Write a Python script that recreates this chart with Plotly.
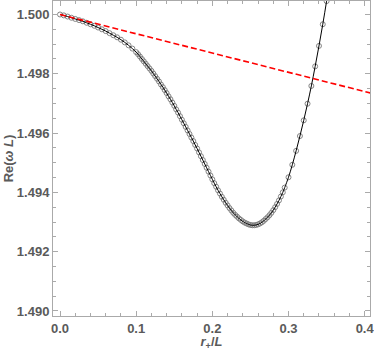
import plotly.graph_objects as go

# data
r_plus = [0.000, 0.005, 0.010, 0.015, 0.020, 0.025, 0.030, 0.035, 0.040, 0.045,
          0.050, 0.055, 0.060, 0.065, 0.070, 0.075, 0.080, 0.085, 0.090, 0.095,
          0.1000, 0.1025, 0.1050, 0.1075, 0.1100, 0.1125, 0.1150, 0.1175, 0.1200, 0.1225,
          0.1250, 0.1275, 0.1300, 0.1325, 0.1350, 0.1375, 0.1400, 0.1425, 0.1450, 0.1475,
          0.1500, 0.1525, 0.1550, 0.1575, 0.1600, 0.1625, 0.1650, 0.1675, 0.1700, 0.1725,
          0.1750, 0.1775, 0.1800, 0.1825, 0.1850, 0.1875, 0.1900, 0.1925, 0.1950, 0.1975,
          0.2000, 0.2025, 0.2050, 0.2075, 0.2100, 0.2125, 0.2150, 0.2175, 0.2200, 0.2225,
          0.2250, 0.2275, 0.2300, 0.2325, 0.2350, 0.2375, 0.2400, 0.2425, 0.2450, 0.2475,
          0.2500, 0.2525, 0.2550, 0.2575, 0.2600, 0.2625, 0.2650, 0.2675, 0.2700, 0.2725,
          0.2750, 0.2775, 0.2800, 0.2825, 0.2850, 0.2875, 0.2900, 0.2925, 0.2950,
          0.300, 0.305, 0.310, 0.315, 0.320, 0.325, 0.330, 0.335, 0.340, 0.345,
          0.350, 0.355]
re_omega = [1.50000, 1.49997, 1.49993, 1.49989, 1.49985, 1.49981, 1.49977, 1.49972, 1.49967, 1.49962,
            1.49956, 1.49950, 1.49944, 1.49937, 1.49930, 1.49923, 1.49915, 1.49906, 1.49896, 1.49885,
            1.49873, 1.49866, 1.49858, 1.49850, 1.49842, 1.49834, 1.49826, 1.49818, 1.49810, 1.49801,
            1.49792, 1.49783, 1.49774, 1.49764, 1.49755, 1.49745, 1.49735, 1.49724, 1.49714, 1.49703,
            1.49692, 1.49680, 1.49669, 1.49657, 1.49645, 1.49633, 1.49621, 1.49609, 1.49597, 1.49585,
            1.49573, 1.49560, 1.49548, 1.49535, 1.49522, 1.49509, 1.49496, 1.49483, 1.49470, 1.49457,
            1.49444, 1.49431, 1.49419, 1.49407, 1.49396, 1.49385, 1.49375, 1.49365, 1.49356, 1.49347,
            1.49339, 1.49331, 1.49324, 1.49318, 1.49312, 1.49307, 1.49302, 1.49298, 1.49295, 1.49292,
            1.49290, 1.49289, 1.49289, 1.49290, 1.49292, 1.49295, 1.49299, 1.49304, 1.49310, 1.49316,
            1.49323, 1.49331, 1.49340, 1.49350, 1.49361, 1.49373, 1.49386, 1.49400, 1.49416,
            1.49451, 1.49493, 1.49540, 1.49590, 1.49643, 1.49699, 1.49759, 1.49825, 1.49894, 1.49967,
            1.50045, 1.50128]

approx_x = [0.0, 0.42]
approx_y = [1.50000, 1.49727]

fig = go.Figure()
fig.add_trace(go.Scatter(
    x=r_plus, y=re_omega, mode="markers",
    marker=dict(symbol="circle-open", size=5, color="#777777", line=dict(width=0.9)),
    showlegend=False))
fig.add_trace(go.Scatter(
    x=r_plus, y=re_omega, mode="lines",
    line=dict(color="black", width=1, shape="spline"),
    showlegend=False))
fig.add_trace(go.Scatter(
    x=approx_x, y=approx_y, mode="lines",
    line=dict(color="#ff0000", width=1.6, dash="6px,3px"),
    showlegend=False))

label_font = dict(family="Liberation Sans", size=13, color="#5a5a5a", weight="bold")

axis_common = dict(
    showline=True, linecolor="#aaaaaa", linewidth=1, mirror="ticks",
    ticks="inside", tickcolor="#aaaaaa", ticklen=5, tickwidth=1,
    showgrid=False, zeroline=False, automargin=False,
    tickfont=label_font, ticklabeloverflow="allow",
)

fig.update_layout(
    template="none",
    width=374, height=351,
    margin=dict(l=53, r=4, t=1, b=35),
    paper_bgcolor="white", plot_bgcolor="white",
    xaxis=dict(range=[-0.0092, 0.407], tickvals=[0.0, 0.1, 0.2, 0.3, 0.4],
               tickformat=".1f",
               minor=dict(ticks="inside", dtick=0.02, tick0=0, ticklen=3, tickcolor="#aaaaaa"),
               title=dict(text="<i>r</i><sub>+</sub>/<i>L</i>", standoff=2, font=label_font),
               **axis_common),
    yaxis=dict(range=[1.48983, 1.500455], tickvals=[1.490, 1.492, 1.494, 1.496, 1.498, 1.500],
               tickformat=".3f",
               minor=dict(ticks="inside", dtick=0.0005, tick0=1.49, ticklen=3, tickcolor="#aaaaaa"),
               title=dict(text="Re(<i>ω L</i>)", standoff=0, font=label_font),
               **axis_common),
)

fig.write_html("out.html", config={"displayModeBar": False},
               post_script="document.body.style.margin='0';")
